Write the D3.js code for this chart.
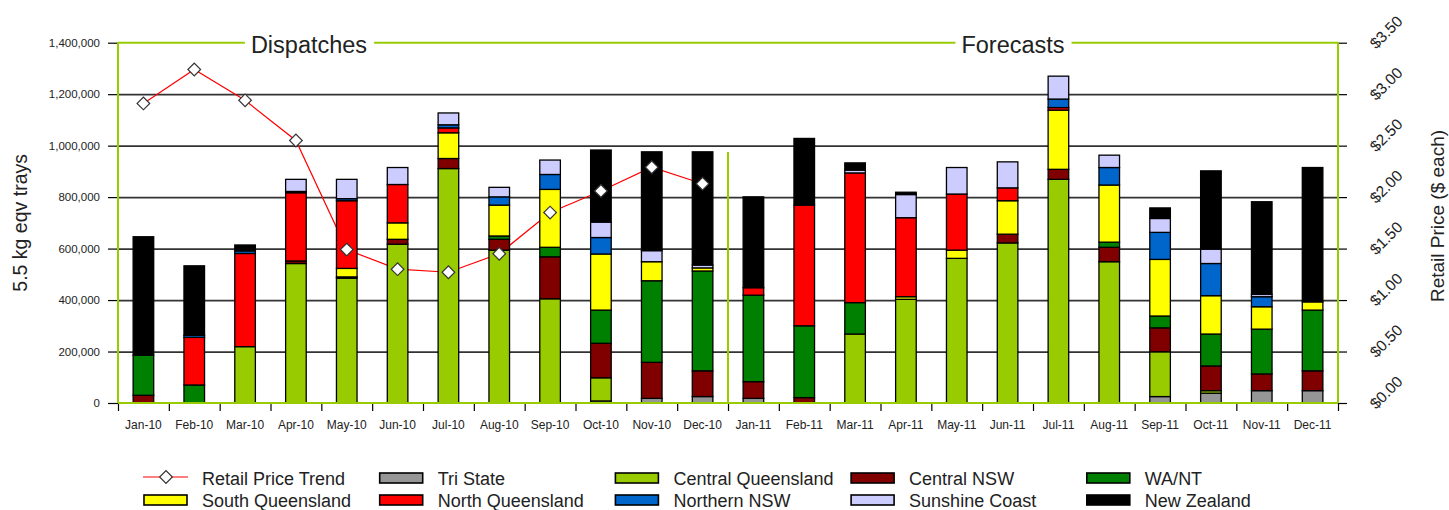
<!DOCTYPE html>
<html lang="en">
<head>
<meta charset="UTF-8"/>
<title>Dispatches and Forecasts</title>
<style>
  body { margin: 0; background: #ffffff; }
  svg { display: block; font-family: "Liberation Sans", Arial, sans-serif; }
  .tick text { fill: #222; }
  .axis path.domain { display: none; }
  .axis .tick line { stroke: #000; stroke-width: 1.2; }
  .grid .tick line { stroke: #333; stroke-width: 1.7; }
  .grid path.domain { display: none; }
</style>
</head>
<body>
<svg width="1449" height="510"></svg>
<script src="https://d3js.org/d3.v7.min.js"></script>
<script>
const months = ["Jan-10","Feb-10","Mar-10","Apr-10","May-10","Jun-10","Jul-10","Aug-10","Sep-10","Oct-10","Nov-10","Dec-10",
                "Jan-11","Feb-11","Mar-11","Apr-11","May-11","Jun-11","Jul-11","Aug-11","Sep-11","Oct-11","Nov-11","Dec-11"];

// trays per region, bottom of the stack first
const triState      = [0,0,0,0,0,0,0,0,0,8000,18000,25000, 18000,0,0,0,0,0,0,0,25000,38000,48000,48000];
const centralQld    = [0,0,219000,542000,485000,617000,911000,594000,405000,90000,0,0, 0,0,268000,403000,562000,622000,869000,549000,174000,10000,0,0];
const centralNsw    = [30000,0,0,10000,5000,19000,39000,42000,163000,134000,140000,100000, 65000,21000,0,0,0,34000,39000,56000,93000,96000,65000,77000];
const waNt          = [156000,70000,0,0,0,0,0,13000,37000,129000,317000,388000, 336000,279000,122000,0,0,0,0,20000,46000,124000,174000,236000];
const southQld      = [0,0,0,0,33000,64000,100000,120000,225000,218000,74000,12000, 0,0,0,10000,32000,130000,230000,222000,220000,149000,87000,32000];
const northQld      = [0,185000,362000,265000,263000,149000,19000,0,0,0,0,0, 29000,469000,504000,307000,218000,50000,10000,0,0,0,0,0];
const northernNsw   = [0,8000,10000,5000,8000,0,12000,32000,58000,64000,0,0, 0,0,0,0,0,0,33000,68000,105000,125000,39000,0];
const sunshineCoast = [0,0,0,47000,75000,66000,46000,37000,56000,60000,43000,11000, 0,0,11000,90000,103000,101000,89000,48000,54000,56000,9000,0];
const newZealand    = [460000,270000,23000,0,0,0,0,0,0,280000,384000,440000, 353000,259000,28000,9000,0,0,0,0,41000,304000,360000,522000];

const retailPrice = [2.91,3.24,2.94,2.55,1.49,1.30,1.27,1.45,1.85,2.06,2.29,2.13, null,null,null,null,null,null,null,null,null,null,null,null];

const seriesNames  = ["Tri State","Central Queensland","Central NSW","WA/NT","South Queensland","North Queensland","Northern NSW","Sunshine Coast","New Zealand"];
const seriesValues = [triState, centralQld, centralNsw, waNt, southQld, northQld, northernNsw, sunshineCoast, newZealand];
const seriesColors = ["#969696","#99cc00","#800000","#008000","#ffff00","#ff0000","#0066cc","#ccccff","#000000"];

const leftTicks  = [0,200000,400000,600000,800000,1000000,1200000,1400000];
const rightTicks = [0,0.5,1,1.5,2,2.5,3,3.5];
const dispatchTop = 975000;   // height of the dispatch / forecast divider

const svg = d3.select("svg");
const plotL = 118, plotR = 1338, plotT = 42.7, plotB = 403;
const green = "#99cc00";

const x = d3.scaleBand().domain(months).range([plotL, plotR]).paddingInner(0.595).paddingOuter(0.2975);
const xEdge = d3.scaleLinear().domain([0, months.length]).range([plotL, plotR]);
const y = d3.scaleLinear().domain([0, 1400000]).range([plotB, plotT]);
const y2 = d3.scaleLinear().domain([0, 3.5]).range([plotB, plotT]);

// grid
svg.append("g").attr("class", "grid")
  .attr("transform", `translate(${plotL},0)`)
  .call(d3.axisLeft(y).tickValues(leftTicks.slice(1, -1)).tickSize(-(plotR - plotL)).tickFormat(""));

// left axis
svg.append("g").attr("class", "axis")
  .attr("transform", `translate(${plotL},0)`)
  .call(d3.axisLeft(y).tickValues(leftTicks).tickSize(10).tickPadding(8).tickFormat(d3.format(",")))
  .selectAll("text").style("font-size", "11.5px");

// right axis
const rAxis = svg.append("g").attr("class", "axis")
  .attr("transform", `translate(${plotR},0)`)
  .call(d3.axisRight(y2).tickValues(rightTicks).tickSize(9).tickFormat(""));
rAxis.selectAll(".tick").append("text")
  .attr("transform", "translate(48,-11) rotate(-45)")
  .attr("text-anchor", "middle")
  .attr("dy", "0.35em")
  .style("font-size", "15.5px")
  .text(d => "$" + d3.format(".2f")(d));

// bottom ticks at month boundaries
svg.append("g").attr("class", "axis")
  .attr("transform", `translate(0,${plotB})`)
  .call(d3.axisBottom(xEdge).tickValues(d3.range(months.length + 1)).tickSize(8).tickFormat(""));

svg.append("g").attr("class", "axis")
  .attr("transform", `translate(0,${plotB})`)
  .call(d3.axisBottom(x).tickSize(0).tickPadding(17.5))
  .selectAll("text").style("font-size", "12px");

// price line (behind the bars)
const pricePts = months.map((m, i) => ({ m: m, v: retailPrice[i] })).filter(d => d.v != null);
const line = d3.line().x(d => x(d.m) + x.bandwidth() / 2).y(d => y2(d.v));
svg.append("path").datum(pricePts)
  .attr("d", line).attr("fill", "none").attr("stroke", "#ff0000").attr("stroke-width", 1.2);

// stacked bars
const table = months.map((m, i) => {
  const row = { month: m };
  seriesNames.forEach((n, k) => row[n] = seriesValues[k][i]);
  return row;
});
const stacked = d3.stack().keys(seriesNames)(table);

svg.append("g").selectAll("g")
  .data(stacked).join("g")
  .attr("fill", (d, i) => seriesColors[i])
  .selectAll("rect")
  .data(d => d.filter(p => p[1] - p[0] > 0))
  .join("rect")
  .attr("x", d => x(d.data.month))
  .attr("y", d => y(d[1]))
  .attr("width", x.bandwidth())
  .attr("height", d => y(d[0]) - y(d[1]))
  .attr("stroke", "#000")
  .attr("stroke-width", 1.3);

// plot frame
const frame = svg.append("g").attr("stroke", green).attr("stroke-width", 2).attr("fill", "none");
frame.append("line").attr("x1", plotL).attr("x2", plotL).attr("y1", plotT).attr("y2", plotB);
frame.append("line").attr("x1", plotR).attr("x2", plotR).attr("y1", plotT).attr("y2", plotB);
frame.append("line").attr("x1", plotL).attr("x2", plotR).attr("y1", plotB).attr("y2", plotB);
frame.append("line")
  .attr("x1", xEdge(12)).attr("x2", xEdge(12))
  .attr("y1", y(dispatchTop)).attr("y2", plotB);

// section titles with a gap in the top frame line
const titles = [{ t: "Dispatches", x: 309 }, { t: "Forecasts", x: 1013 }];
const gaps = [];
titles.forEach(d => {
  const tx = svg.append("text").attr("x", d.x).attr("y", 53)
    .attr("text-anchor", "middle").style("font-size", "23.5px").attr("fill", "#222").text(d.t);
  const b = tx.node().getBBox();
  gaps.push([b.x - 6, b.x + b.width + 7]);
});
let cur = plotL;
gaps.forEach(g => {
  frame.append("line").attr("x1", cur).attr("x2", g[0]).attr("y1", plotT).attr("y2", plotT);
  cur = g[1];
});
frame.append("line").attr("x1", cur).attr("x2", plotR).attr("y1", plotT).attr("y2", plotT);

// diamonds
svg.append("g").selectAll("path").data(pricePts).join("path")
  .attr("transform", d => `translate(${x(d.m) + x.bandwidth() / 2},${y2(d.v)}) rotate(45)`)
  .attr("d", d3.symbol().type(d3.symbolSquare).size(80))
  .attr("fill", "#fff").attr("stroke", "#333").attr("stroke-width", 1.2);

// axis titles
svg.append("text")
  .attr("transform", `translate(27,${(plotT + plotB) / 2}) rotate(-90)`)
  .attr("text-anchor", "middle").style("font-size", "19.5px").attr("fill", "#222")
  .text("5.5 kg eqv trays");
svg.append("text")
  .attr("transform", `translate(1444,216) rotate(-90)`)
  .attr("text-anchor", "middle").style("font-size", "19px").attr("fill", "#222")
  .text("Retail Price ($ each)");

// legend
const legendItems = ["Retail Price Trend"].concat(seriesNames);
const legendColors = [null].concat(seriesColors);
const lg = svg.append("g");
legendItems.forEach((name, i) => {
  const col = i % 5, row = Math.floor(i / 5);
  const gx = 144 + col * 235.7, gy = 478 + row * 22;
  if (legendColors[i] == null) {
    lg.append("line").attr("x1", gx - 1).attr("x2", gx + 44).attr("y1", gy - 1).attr("y2", gy - 1)
      .attr("stroke", "#ff0000").attr("stroke-width", 1.2);
    lg.append("path")
      .attr("transform", `translate(${gx + 22},${gy - 1}) rotate(45)`)
      .attr("d", d3.symbol().type(d3.symbolSquare).size(80))
      .attr("fill", "#fff").attr("stroke", "#333").attr("stroke-width", 1.2);
  } else {
    lg.append("rect").attr("x", gx).attr("y", gy - 5).attr("width", 43).attr("height", 10)
      .attr("fill", legendColors[i]).attr("stroke", "#000").attr("stroke-width", 1.6);
  }
  lg.append("text").attr("x", gx + 58).attr("y", gy + 6.5)
    .style("font-size", "18px").attr("fill", "#222").text(name);
});
</script>
</body>
</html>
